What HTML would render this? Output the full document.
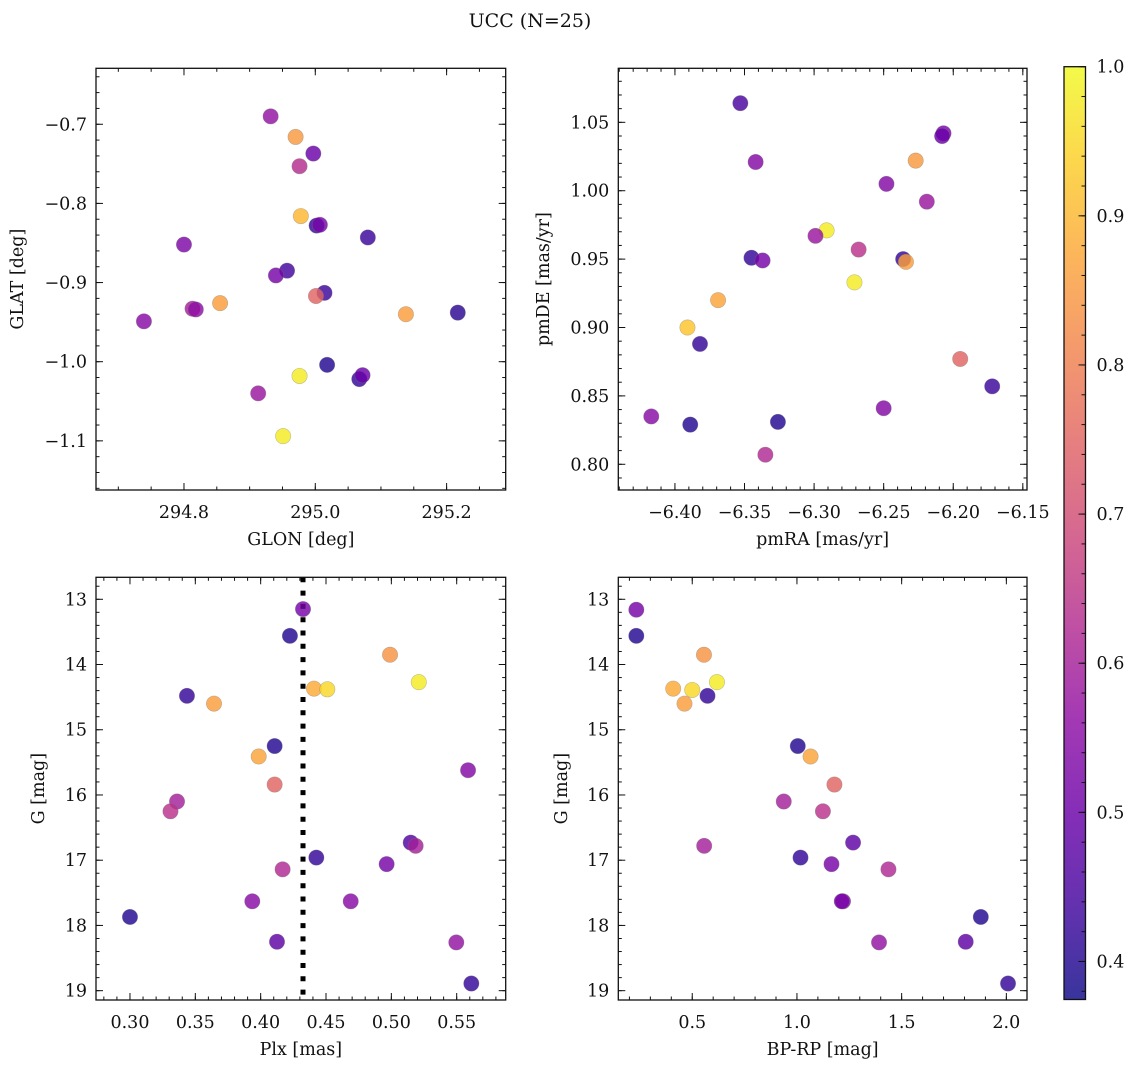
<!DOCTYPE html>
<html><head><meta charset="utf-8">
<style>
html,body{margin:0;padding:0;background:#fff;}
svg{display:block;font-family:"DejaVu Serif","Liberation Serif",serif;}
</style></head>
<body>
<svg id="fig" width="1136" height="1067" viewBox="0 0 1136 1067" xmlns="http://www.w3.org/2000/svg">
<text x="530" y="27" font-size="19" text-anchor="middle" fill="#111">UCC (N=25)</text>
</svg>
<script>
// ---- data ----
const glon = [294.932,294.970,294.997,294.976,294.978,295.002,295.007,295.080,294.800,294.957,294.940,295.014,295.001,294.855,294.813,294.818,294.739,295.138,295.217,295.018,294.976,295.067,295.072,294.913,294.951];
const glat = [-0.690,-0.716,-0.737,-0.753,-0.816,-0.828,-0.827,-0.843,-0.852,-0.885,-0.891,-0.913,-0.917,-0.926,-0.933,-0.934,-0.949,-0.940,-0.938,-1.004,-1.018,-1.022,-1.017,-1.040,-1.094];
const probA = [0.57,0.85,0.50,0.63,0.90,0.42,0.52,0.43,0.53,0.44,0.52,0.43,0.75,0.86,0.60,0.56,0.55,0.86,0.41,0.40,0.98,0.42,0.50,0.58,0.98];

const pmra = [-6.353,-6.207,-6.208,-6.342,-6.227,-6.248,-6.219,-6.291,-6.299,-6.268,-6.345,-6.337,-6.236,-6.234,-6.271,-6.369,-6.391,-6.382,-6.195,-6.172,-6.250,-6.417,-6.389,-6.326,-6.335];
const pmde = [1.064,1.042,1.040,1.021,1.022,1.005,0.992,0.971,0.967,0.957,0.951,0.949,0.950,0.948,0.933,0.920,0.900,0.888,0.877,0.857,0.841,0.835,0.829,0.831,0.807];
const probB = [0.45,0.52,0.50,0.54,0.85,0.54,0.58,0.98,0.58,0.64,0.42,0.52,0.42,0.86,0.98,0.87,0.92,0.42,0.75,0.43,0.54,0.55,0.40,0.40,0.62];

const plx = [0.4324,0.4224,0.499,0.521,0.4408,0.451,0.3436,0.3643,0.4107,0.3985,0.5587,0.4107,0.336,0.331,0.5148,0.5186,0.4426,0.4964,0.4168,0.3936,0.4689,0.300,0.4125,0.5497,0.5612];
const gC = [13.15,13.56,13.85,14.27,14.37,14.38,14.48,14.60,15.25,15.41,15.62,15.84,16.10,16.25,16.73,16.78,16.96,17.06,17.14,17.63,17.63,17.87,18.25,18.26,18.89];
const probC = [0.52,0.40,0.84,0.98,0.88,0.95,0.42,0.86,0.40,0.87,0.54,0.75,0.60,0.64,0.46,0.60,0.42,0.52,0.62,0.55,0.55,0.40,0.48,0.57,0.42];

const bprp = [0.233,0.233,0.556,0.618,0.409,0.500,0.573,0.463,1.004,1.065,1.179,0.937,1.124,1.268,0.557,1.017,1.165,1.437,1.220,1.214,1.878,1.392,1.806,2.008];
const gD = [13.16,13.56,13.85,14.27,14.37,14.39,14.48,14.60,15.25,15.41,15.84,16.10,16.25,16.73,16.78,16.96,17.06,17.14,17.63,17.63,17.87,18.26,18.25,18.89];
const probD = [0.52,0.40,0.84,0.98,0.88,0.95,0.42,0.86,0.40,0.87,0.75,0.60,0.64,0.48,0.60,0.42,0.52,0.62,0.55,0.52,0.40,0.57,0.48,0.42];

const plxLine = [0.4324];
const cbTicks = [0.4,0.5,0.6,0.7,0.8,0.9,1.0];
const vmin = 0.3745, vmax = 1.0;

// ---- helpers ----
const NS = "http://www.w3.org/2000/svg";
const svg = document.getElementById('fig');
const FS = 17.5;
function mk(tag, attrs, parent){ const e=document.createElementNS(NS,tag); for(const k in attrs) e.setAttribute(k,attrs[k]); (parent||svg).appendChild(e); return e; }
const stops = [[13,8,135],[65,4,157],[106,0,168],[143,13,164],[177,42,144],[204,71,120],[225,100,98],[242,132,75],[252,166,54],[252,206,37],[240,249,33]];
function plasma(v){ let t=(v-vmin)/(vmax-vmin); t=Math.max(0,Math.min(1,t)); const f=t*10; const i=Math.min(9,Math.floor(f)); const r=f-i; const a=stops[i],b=stops[i+1]; return 'rgb('+a.map((c,k)=>Math.round(c+(b[k]-c)*r)).join(',')+')'; }
function fmt(v,d){ const s=Math.abs(v).toFixed(d); return (v<-1e-9?'\u2212':'')+s; }

function panel(p){
  const g = mk('g',{});
  
  
  const sx = v => p.x0 + (v-p.xl[0])/(p.xl[1]-p.xl[0])*(p.x1-p.x0);
  const sy = v => p.y1 - (v-p.yl[0])/(p.yl[1]-p.yl[0])*(p.y1-p.y0);
  p.xmax=()=>Math.max(p.xl[0],p.xl[1]); p.ymax=()=>Math.max(p.yl[0],p.yl[1]);
  const tg = mk('g',{stroke:'#111','stroke-width':1},g);
  function ticksX(start,step,len){ for(let v=start; v<=p.xmax()+1e-9; v+=step){ const x=sx(v); if(x<p.x0-0.5||x>p.x1+0.5) continue; mk('line',{x1:x,x2:x,y1:p.y1,y2:p.y1-len},tg); mk('line',{x1:x,x2:x,y1:p.y0,y2:p.y0+len},tg);} }
  function ticksY(start,step,len){ for(let v=start; v<=p.ymax()+1e-9; v+=step){ const y=sy(v); if(y<p.y0-0.5||y>p.y1+0.5) continue; mk('line',{y1:y,y2:y,x1:p.x0,x2:p.x0+len},tg); mk('line',{y1:y,y2:y,x1:p.x1,x2:p.x1-len},tg);} }
  const xlo=Math.min(p.xl[0],p.xl[1]), ylo=Math.min(p.yl[0],p.yl[1]);
  ticksX(Math.ceil(xlo/p.xmin)*p.xmin,p.xmin,3.5);
  ticksX(Math.ceil(xlo/p.xmaj)*p.xmaj,p.xmaj,7);
  ticksY(Math.ceil(ylo/p.ymin)*p.ymin,p.ymin,3.5);
  ticksY(Math.ceil(ylo/p.ymaj)*p.ymaj,p.ymaj,7);
  for(let v=Math.ceil(xlo/p.xmaj-1e-9)*p.xmaj; v<=p.xmax()+1e-9; v+=p.xmaj){ const x=sx(v); if(x<p.x0-0.5||x>p.x1+0.5) continue;
    const t=mk('text',{x:x,y:p.y1+28,'font-size':FS,'text-anchor':'middle',fill:'#111'},g); t.textContent=fmt(v,p.xd);
      }
  for(let v=Math.ceil(ylo/p.ymaj-1e-9)*p.ymaj; v<=p.ymax()+1e-9; v+=p.ymaj){ const y=sy(v); if(y<p.y0-0.5||y>p.y1+0.5) continue;
    const t=mk('text',{x:p.x0-9,y:y+6,'font-size':FS,'text-anchor':'end',fill:'#111'},g); t.textContent=fmt(v,p.yd);
      }
  const xt=mk('text',{x:(p.x0+p.x1)/2,y:p.y1+55,'font-size':FS,'text-anchor':'middle',fill:'#111'},g); xt.textContent=p.xlab;
   
  const yt=mk('text',{x:0,y:0,'font-size':FS,'text-anchor':'middle',fill:'#111',transform:'translate('+p.ylx+','+((p.y0+p.y1)/2)+') rotate(-90)'},g); yt.textContent=p.ylab;
   
  if(p.vline){ p.vline.forEach(v=>{ const l=mk('line',{x1:sx(v),x2:sx(v),y1:p.y0,y2:p.y1,stroke:'#000','stroke-width':5,'stroke-dasharray':'5,8.3'},g);
      }); }
  const pg = mk('g',{},g);
  p.xs.forEach((xv,i)=>{ const c=mk('circle',{cx:sx(xv),cy:sy(p.ys[i]),r:7.7,fill:plasma(p.cs[i]),'fill-opacity':0.82,stroke:'#777','stroke-opacity':0.45,'stroke-width':0.6},pg);
      });
  const fr=mk('rect',{x:p.x0,y:p.y0,width:p.x1-p.x0,height:p.y1-p.y0,fill:'none',stroke:'#111','stroke-width':1.3},g);
   
}

panel({name:'glon-glat-panel',x0:96,x1:505.7,y0:68.3,y1:490,xl:[294.666,295.29],yl:[-1.1621,-0.6293],xmaj:0.2,xmin:0.05,ymaj:0.1,ymin:0.02,xd:1,yd:1,xlab:'GLON [deg]',ylab:'GLAT [deg]',ylx:23,xs:glon,ys:glat,cs:probA});
panel({name:'pm-panel',x0:618.3,x1:1027,y0:68.3,y1:490,xl:[-6.4407,-6.147],yl:[0.7812,1.0895],xmaj:0.05,xmin:0.01,ymaj:0.05,ymin:0.01,xd:2,yd:2,xlab:'pmRA [mas/yr]',ylab:'pmDE [mas/yr]',ylx:549,xs:pmra,ys:pmde,cs:probB});
panel({name:'plx-g-panel',x0:96,x1:505.7,y0:577.3,y1:1000,xl:[0.274,0.5875],yl:[19.143,12.663],xmaj:0.05,xmin:0.01,ymaj:1,ymin:0.2,xd:2,yd:0,xlab:'Plx [mas]',ylab:'G [mag]',ylx:44,xs:plx,ys:gC,cs:probC,vline:plxLine});
panel({name:'cmd-panel',x0:618.3,x1:1027,y0:577.3,y1:1000,xl:[0.1469,2.0986],yl:[19.143,12.663],xmaj:0.5,xmin:0.1,ymaj:1,ymin:0.2,xd:1,yd:0,xlab:'BP-RP [mag]',ylab:'G [mag]',ylx:567,xs:bprp,ys:gD,cs:probD});

(function(){
  const x0=1064,x1=1085.5,y0=66.7,y1=999.5;
  const cy=v=>y1-(v-vmin)/(vmax-vmin)*(y1-y0);
  const cb=mk('g',{});
  
  
  const defs=mk('defs',{},cb);
  const lg=mk('linearGradient',{id:'pg',x1:0,y1:1,x2:0,y2:0},defs);
  for(let k=0;k<=10;k++){ mk('stop',{offset:(k*10)+'%','stop-color':'rgb('+stops[k].join(',')+')'},lg); }
  mk('rect',{x:x0,y:y0,width:x1-x0,height:y1-y0,fill:'url(#pg)','fill-opacity':0.82},cb);
  for(let v=0.38; v<=1.0001; v+=0.02){ mk('line',{x1:x1,x2:x1-4,y1:cy(v),y2:cy(v),stroke:'#111','stroke-width':1},cb); }
  cbTicks.forEach(v=>{ mk('line',{x1:x1,x2:x1-7,y1:cy(v),y2:cy(v),stroke:'#111','stroke-width':1},cb);
    const t=mk('text',{x:x1+11,y:cy(v)+6,'font-size':FS,fill:'#111'},cb); t.textContent=v.toFixed(1);
      });
  mk('rect',{x:x0,y:y0,width:x1-x0,height:y1-y0,fill:'none',stroke:'#111','stroke-width':1.3},cb);
})();
</script>
</body></html>
